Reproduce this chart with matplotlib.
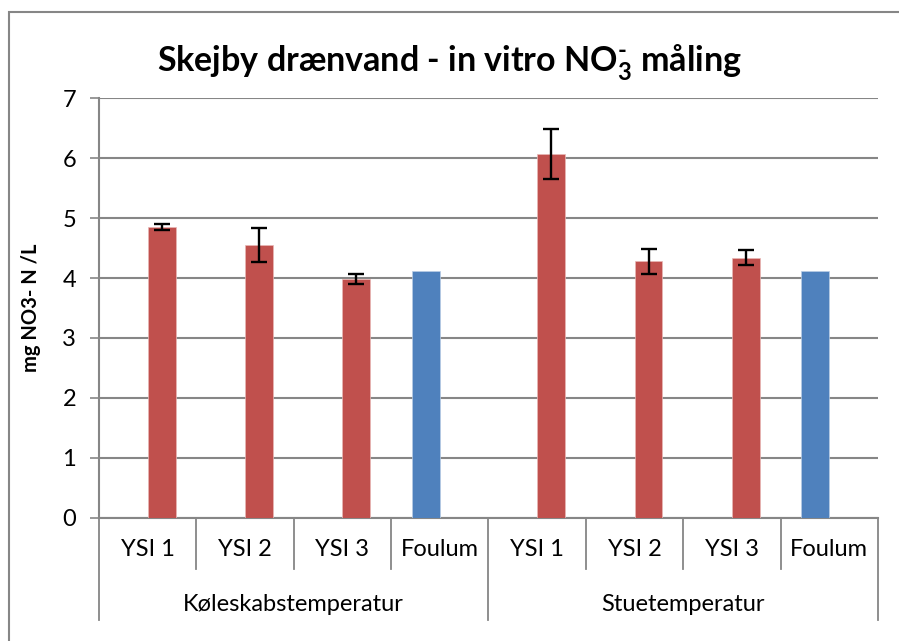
import matplotlib.pyplot as plt
from matplotlib.patches import Rectangle

# data
categories = ["YSI 1", "YSI 2", "YSI 3", "Foulum", "YSI 1", "YSI 2", "YSI 3", "Foulum"]
groups = ["Køleskabstemperatur", "Stuetemperatur"]
ysi_values = [4.85, 4.55, 3.98, None, 6.07, 4.28, 4.34, None]
ysi_errors = [0.05, 0.29, 0.08, None, 0.42, 0.21, 0.13, None]
foulum_values = [None, None, None, 4.11, None, None, None, 4.11]

RED = "#C0504D"
BLUE = "#4F81BD"
GRID = "#868686"


def main():
    plt.rcParams["font.family"] = ["Lato", "DejaVu Sans"]
    plt.rcParams["mathtext.fontset"] = "custom"
    plt.rcParams["mathtext.rm"] = "Lato:bold"
    plt.rcParams["mathtext.it"] = "Lato:bold"
    plt.rcParams["mathtext.bf"] = "Lato:bold"

    fig = plt.figure(figsize=(8.99, 6.41), dpi=100)
    ax = fig.add_axes([0.1101, 0.1919, 0.8665, 0.6552])

    width = 0.287
    xs = [i for i, v in enumerate(ysi_values) if v is not None]
    ax.bar([x + width / 2 for x in xs], [ysi_values[x] for x in xs], width,
           color=RED, edgecolor="#E8B8B6", linewidth=0.5, zorder=3)
    ax.errorbar([x + width / 2 for x in xs], [ysi_values[x] for x in xs],
                yerr=[ysi_errors[x] for x in xs], fmt="none", ecolor="black",
                elinewidth=1.7, capsize=5.5, capthick=1.7, zorder=4)

    xf = [i for i, v in enumerate(foulum_values) if v is not None]
    ax.bar([x - width / 2 for x in xf], [foulum_values[x] for x in xf], width,
           color=BLUE, edgecolor="#B9CDE5", linewidth=0.5, zorder=3)

    ax.set_xlim(-0.5, len(categories) - 0.5)
    ax.set_ylim(0, 7)
    ax.set_yticks(range(8))
    ax.yaxis.grid(True, color=GRID, linewidth=1.5, zorder=0)
    ax.set_xticks([])
    ax.tick_params(axis="y", length=6.5, width=1.2, color=GRID,
                   labelsize=17, pad=10)

    for side in ["top", "right"]:
        ax.spines[side].set_visible(False)
    ax.spines["left"].set_color(GRID)
    ax.spines["left"].set_linewidth(1.5)
    ax.spines["bottom"].set_color(GRID)
    ax.spines["bottom"].set_linewidth(1.5)

    ax.set_ylabel("mg NO3- N /L", fontsize=14.5, fontweight="bold",
                  labelpad=15)

    trans = ax.get_xaxis_transform()
    for i, label in enumerate(categories):
        ax.text(i, -0.076, label, transform=trans, ha="center", va="center",
                fontsize=17)
    for k in range(len(categories) + 1):
        x = k - 0.5
        low = -0.243 if k % 4 == 0 else -0.121
        ax.plot([x, x], [0, low], transform=trans, color=GRID, linewidth=1.3,
                clip_on=False)
    for g, name in enumerate(groups):
        ax.text(g * 4 + 1.5, -0.207, name, transform=trans, ha="center",
                va="center", fontsize=17)

    fig.text(0.5, 0.903,
             r"Skejby drænvand - in vitro NO$_{3}^{\text{-}}$ måling",
             ha="center", va="center", fontsize=24.5, fontweight="bold")

    fig.patches.append(Rectangle((9 / 899, -0.1), 1.2, 1.1 - 12 / 641,
                                 transform=fig.transFigure, fill=False,
                                 edgecolor=GRID, linewidth=1.5))

    fig.savefig("out.png", dpi=100)


if __name__ == "__main__":
    main()
